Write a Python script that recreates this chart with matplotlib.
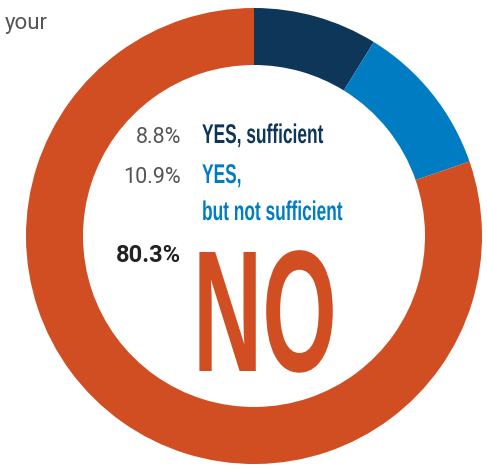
import matplotlib
matplotlib.use("Agg")
import matplotlib.pyplot as plt
import matplotlib.patheffects as pe
from matplotlib.transforms import Affine2D

# survey answers (share of respondents)
answers = ["YES, sufficient", "YES, but not sufficient", "NO"]
shares = [8.8, 10.9, 80.3]
share_labels = ["8.8%", "10.9%", "80.3%"]
colors = ["#0e3658", "#007cc2", "#d04e22"]

W, H = 487, 467


class Squeeze(pe.AbstractPathEffect):
    # narrow the glyphs horizontally around the text origin (condensed look)
    def __init__(self, sx):
        super().__init__()
        self.sx = sx

    def draw_path(self, renderer, gc, tpath, affine, rgbFace=None):
        tx = affine.get_matrix()[0, 2]
        sq = Affine2D().translate(-tx, 0).scale(self.sx, 1).translate(tx, 0)
        renderer.draw_path(gc, tpath, affine + sq, rgbFace)


fig = plt.figure(figsize=(W / 100, H / 100), dpi=100)
ax = fig.add_axes([0, 0, 1, 1])

cx, cy, R = 254, H - 236, 228
ax.pie(shares, colors=colors, startangle=90, counterclock=False,
       center=(cx, cy), radius=R,
       wedgeprops=dict(width=57, linewidth=0))
ax.set_xlim(0, W)
ax.set_ylim(0, H)
ax.set_aspect("equal")
ax.axis("off")

def py(y):
    return H - y

# header fragment
ax.text(5, py(29), "your", fontsize=16, family="Roboto",
        color="#555555", ha="left", va="baseline")

cond = [Squeeze(0.64)]
lab_font = dict(family="Liberation Sans", weight="bold", fontsize=19.5,
                ha="left", va="baseline")
pct_font = dict(family="Roboto", fontsize=15.5, ha="right", va="baseline")

# YES, sufficient
ax.text(181, py(143), share_labels[0], color="#555555", **pct_font)
ax.text(202, py(143), answers[0], color=colors[0], path_effects=cond, **lab_font)

# YES, but not sufficient
l1, l2 = answers[1].split(" ", 1)
ax.text(181, py(183), share_labels[1], color="#555555", **pct_font)
ax.text(202, py(183), l1, color=colors[1], path_effects=cond, **lab_font)
ax.text(202, py(220), l2, color=colors[1], path_effects=cond, **lab_font)

# NO
ax.text(181, py(262), share_labels[2], family="Roboto", weight="bold",
        fontsize=17, color="#222222", ha="right", va="baseline")
ax.text(193, py(371), answers[2], family="Liberation Sans", weight="bold",
        fontsize=124.6, color=colors[2], ha="left", va="baseline",
        path_effects=[Squeeze(0.554)])

fig.savefig("out.png", dpi=100)
